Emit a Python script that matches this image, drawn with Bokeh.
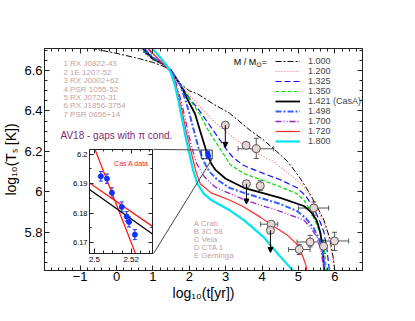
from bokeh.plotting import figure
from bokeh.models import (Range1d, Legend, LegendItem, LinearAxis, SingleIntervalTicker, FixedTicker,
                          ColumnDataSource, Whisker, TeeHead, Arrow, NormalHead, Label, CustomJSTickFormatter)
from bokeh.layouts import column
from bokeh.embed import file_html
from bokeh.resources import INLINE
from bokeh.core.properties import value

FONT = "Liberation Sans"

# ---------------- cooling curves: log10(t[yr]) vs log10(Ts[K]) ----------------
t_100 = [-2.0, -0.7, 0.0, 0.6, 1.0, 1.3, 1.5, 1.75, 2.0, 2.22, 2.7, 3.1, 3.7, 4.05, 4.4, 4.7, 5.0, 5.25, 5.5, 5.7, 5.86, 5.95, 6.0]
T_100 = [6.76, 6.71, 6.685, 6.66, 6.64, 6.62, 6.6, 6.535, 6.5, 6.485, 6.43, 6.39, 6.3, 6.255, 6.2, 6.15, 6.08, 6.01, 5.93, 5.86, 5.77, 5.68, 5.61]

t_120 = [-2.0, 0.6, 1.0, 1.3, 1.5, 1.75, 2.0, 2.3, 2.7, 3.0, 3.3, 3.86, 4.3, 4.6, 5.0, 5.25, 5.5, 5.7, 5.85, 5.93, 5.98]
T_120 = [6.9, 6.71, 6.65, 6.63, 6.6, 6.535, 6.48, 6.42, 6.345, 6.3, 6.255, 6.19, 6.15, 6.11, 6.05, 6.0, 5.93, 5.84, 5.76, 5.68, 5.61]

t_1325 = [-2.0, 0.65, 1.0, 1.3, 1.5, 1.75, 2.0, 2.24, 2.5, 2.71, 3.0, 3.2, 3.5, 4.05, 4.5, 4.96, 5.2, 5.42, 5.6, 5.7, 5.78, 5.85]
T_1325 = [6.9, 6.71, 6.655, 6.63, 6.6, 6.53, 6.465, 6.41, 6.345, 6.29, 6.215, 6.17, 6.13, 6.09, 6.06, 6.02, 5.98, 5.92, 5.85, 5.8, 5.72, 5.61]

t_135 = [-2.0, 0.68, 1.0, 1.3, 1.5, 1.75, 2.0, 2.3, 2.5, 2.71, 3.0, 3.12, 3.5, 4.05, 4.5, 4.96, 5.15, 5.32, 5.5, 5.62, 5.72, 5.77]
T_135 = [6.9, 6.71, 6.655, 6.63, 6.6, 6.53, 6.46, 6.38, 6.31, 6.25, 6.17, 6.135, 6.09, 6.055, 6.025, 5.99, 5.96, 5.91, 5.84, 5.78, 5.7, 5.61]

t_1421 = [-2.0, 0.72, 1.0, 1.3, 1.5, 1.75, 2.0, 2.16, 2.3, 2.48, 2.6, 2.71, 3.0, 3.5, 4.0, 4.5, 5.15, 5.35, 5.5, 5.6, 5.66, 5.71]
T_1421 = [6.9, 6.71, 6.66, 6.63, 6.6, 6.53, 6.44, 6.385, 6.3, 6.195, 6.14, 6.11, 6.065, 6.02, 5.995, 5.97, 5.93, 5.9, 5.86, 5.8, 5.73, 5.61]

t_1498 = [-2.0, 0.75, 1.0, 1.3, 1.5, 1.75, 1.9, 2.0, 2.1, 2.25, 2.4, 2.55, 2.77, 3.1, 3.5, 4.05, 4.5, 4.96, 5.2, 5.42, 5.58, 5.67, 5.73]
T_1498 = [6.9, 6.71, 6.665, 6.63, 6.6, 6.53, 6.45, 6.39, 6.32, 6.22, 6.15, 6.1, 6.06, 6.02, 5.995, 5.965, 5.94, 5.905, 5.87, 5.82, 5.76, 5.7, 5.61]

t_170 = [-2.0, 0.85, 1.0, 1.3, 1.5, 1.6, 1.7, 1.8, 1.9, 2.0, 2.1, 2.2, 2.41, 2.7, 3.0, 3.6, 4.4, 5.15, 5.35, 5.51, 5.63, 5.7]
T_170 = [6.9, 6.71, 6.68, 6.63, 6.595, 6.56, 6.5, 6.43, 6.35, 6.27, 6.2, 6.14, 6.075, 6.025, 6.0, 5.955, 5.91, 5.86, 5.82, 5.775, 5.7, 5.61]

t_172 = [-2.0, 0.88, 1.0, 1.3, 1.5, 1.6, 1.7, 1.8, 1.9, 2.0, 2.1, 2.2, 2.3, 2.6, 3.1, 3.5, 3.95, 4.4, 4.7, 4.96, 5.1, 5.2, 5.23]
T_172 = [6.9, 6.71, 6.685, 6.63, 6.59, 6.55, 6.48, 6.4, 6.31, 6.235, 6.16, 6.09, 6.04, 5.995, 5.96, 5.925, 5.875, 5.82, 5.785, 5.74, 5.69, 5.64, 5.61]

t_180 = [-2.0, 0.98, 1.2, 1.4, 1.5, 1.6, 1.7, 1.8, 1.9, 2.0, 2.1, 2.22, 2.4, 2.6, 3.1, 3.5, 4.05, 4.45, 4.7, 4.85]
T_180 = [6.95, 6.71, 6.665, 6.62, 6.585, 6.53, 6.45, 6.36, 6.27, 6.19, 6.11, 6.04, 5.99, 5.96, 5.91, 5.86, 5.775, 5.69, 5.64, 5.61]

mass_labels = ["1.000", "1.200", "1.325", "1.350", "1.421 (CasA)", "1.498", "1.700", "1.720", "1.800"]

# ---------------- observed neutron stars ----------------
obs_t = [2.99, 3.56, 3.84, 3.57, 3.95, 5.42, 4.25, 4.23, 5.02, 5.32, 5.69, 5.99]
obs_T = [6.33, 6.23, 6.213, 6.04, 6.03, 5.92, 5.84, 5.81, 5.715, 5.752, 5.731, 5.757]

xerr_T = [6.213, 5.92, 5.84, 5.715, 5.752, 5.757]
xerr_lo = [3.34, 5.0, 3.96, 4.73, 4.96, 5.6]
xerr_hi = [4.32, 5.83, 4.43, 5.32, 5.69, 6.38]

yerr_t = [3.84, 3.95, 5.42, 5.02, 5.32, 5.69, 5.99]
yerr_lo = [6.165, 6.007, 5.885, 5.69, 5.728, 5.695, 5.71]
yerr_hi = [6.265, 6.055, 5.95, 5.74, 5.785, 5.76, 5.80]

limit_t = [2.99, 3.57, 4.23]
limit_T = [6.33, 6.04, 5.81]
limit_end = [6.22, 5.94, 5.70]

names_num = ["1 RX J0822-43", "2 1E 1207-52", "3 RX J0002+62", "4 PSR 1055-52",
             "5 RX J0720-31", "6 RX J1856-3754", "7 PSR 0656+14"]
names_let = ["A Crab", "B 3C 58", "C Vela", "D CTA 1", "E Geminga"]

# ---------------- Cas A (inset) ----------------
casa_t = [2.5035, 2.5068, 2.5095, 2.5149, 2.5175, 2.5188, 2.5220]
casa_T = [6.1925, 6.1917, 6.1869, 6.1821, 6.1789, 6.1770, 6.1727]
casa_err = [0.0016, 0.0016, 0.0017, 0.0017, 0.0016, 0.0017, 0.0017]

fit_black_t = [2.4973, 2.5316]
fit_black_T = [6.1880, 6.1729]
fit_red1_t = [2.4973, 2.5316]
fit_red1_T = [6.1902, 6.1755]
fit_red2_t = [2.4990, 2.5240]
fit_red2_T = [6.2037, 6.1636]

zoom_box_t = [2.33, 2.63]
zoom_box_T = [6.164, 6.207]
inset_corner_t = 1.017
inset_corner_T = [6.21, 5.695]

# ---------------- main figure ----------------
p = figure(frame_width=318, frame_height=222, x_range=Range1d(-1.98, 6.76), y_range=Range1d(5.611, 6.709),
           output_backend="svg", toolbar_location=None,
           min_border_left=39, min_border_right=42, min_border_top=48, min_border_bottom=35)
p.xgrid.visible = False
p.ygrid.visible = False
p.outline_line_color = "#222222"
p.background_fill_color = "white"

def style_axis(ax, labels=True, size="13px"):
    ax.axis_line_color = "#222222"
    ax.major_tick_line_color = "#222222"
    ax.minor_tick_line_color = "#222222"
    ax.major_tick_in = 5
    ax.major_tick_out = 0
    ax.minor_tick_in = 3
    ax.minor_tick_out = 0
    ax.major_label_text_font = FONT
    ax.major_label_text_font_size = size
    ax.major_label_text_color = "black"
    ax.axis_label_text_font = FONT
    ax.axis_label_text_font_style = "normal"
    ax.axis_label_text_color = "black"
    if not labels:
        ax.formatter = CustomJSTickFormatter(code="return ''")

p.xaxis.ticker = SingleIntervalTicker(interval=1, num_minor_ticks=5)
p.yaxis.ticker = SingleIntervalTicker(interval=0.2, num_minor_ticks=4)
style_axis(p.xaxis[0])
style_axis(p.yaxis[0])
p.xaxis.axis_label = "log\u2081\u2080(t[yr])"
p.yaxis.axis_label = "log\u2081\u2080(T\u209b [K])"
p.xaxis.axis_label_text_font_size = "14px"
p.yaxis.axis_label_text_font_size = "14px"
p.xaxis.major_label_standoff = 1
p.yaxis.major_label_standoff = 2
p.xaxis.axis_label_standoff = 1
p.yaxis.axis_label_standoff = 2

top_ax = LinearAxis(ticker=SingleIntervalTicker(interval=1, num_minor_ticks=5))
right_ax = LinearAxis(ticker=SingleIntervalTicker(interval=0.2, num_minor_ticks=4))
style_axis(top_ax, labels=False)
style_axis(right_ax, labels=False)
p.add_layout(top_ax, "above")
p.add_layout(right_ax, "right")

curve_specs = [
    (t_100, T_100, "black", "6 2 2 2", 1.0),
    (t_120, T_120, "#ff6a6a", "1 2", 1.2),
    (t_1325, T_1325, "#1010ff", "6 3", 1.2),
    (t_135, T_135, "#00dd00", "4 2", 1.2),
    (t_1421, T_1421, "black", "solid", 1.8),
    (t_1498, T_1498, "#3a5cff", "6 2 2 2", 2.0),
    (t_170, T_170, "#9a1fd0", "6 2 1 2 1 2", 1.3),
    (t_172, T_172, "#ff2a2a", "solid", 1.2),
    (t_180, T_180, "#00e4ee", "solid", 2.2),
]
renderers = []
for tx, ty, col, dash, w in curve_specs:
    r = p.line(tx, ty, line_color=col, line_dash=dash, line_width=w)
    renderers.append(r)

# zoom box and connectors
p.quad(left=[zoom_box_t[0]], right=[zoom_box_t[1]], bottom=[zoom_box_T[0]], top=[zoom_box_T[1]],
       fill_alpha=0, line_color="#333333", line_width=1)
p.segment(x0=[inset_corner_t, inset_corner_t], y0=inset_corner_T,
          x1=[zoom_box_t[0], zoom_box_t[1]], y1=[zoom_box_T[1], zoom_box_T[0]],
          line_color="#444444", line_width=1)
p.scatter(casa_t, casa_T, marker="circle", size=4, fill_color="#1030ff", line_color="#1030ff")

# observations
src_x = ColumnDataSource(dict(y=xerr_T, lo=xerr_lo, hi=xerr_hi))
src_y = ColumnDataSource(dict(x=yerr_t, lo=yerr_lo, hi=yerr_hi))
wx = Whisker(source=src_x, base="y", lower="lo", upper="hi", dimension="width",
             line_color="#555555", line_width=1,
             lower_head=TeeHead(size=5, line_color="#555555"), upper_head=TeeHead(size=5, line_color="#555555"))
wy = Whisker(source=src_y, base="x", lower="lo", upper="hi", dimension="height",
             line_color="#555555", line_width=1,
             lower_head=TeeHead(size=5, line_color="#555555"), upper_head=TeeHead(size=5, line_color="#555555"))
p.add_layout(wx)
p.add_layout(wy)
src_lim = ColumnDataSource(dict(x=limit_t, y=limit_T, y1=limit_end))
p.add_layout(Arrow(source=src_lim, x_start="x", y_start="y", x_end="x", y_end="y1",
                   line_color="black", line_width=1,
                   end=NormalHead(size=5, fill_color="black", line_color="black")))
p.scatter(obs_t, obs_T, marker="circle", size=8, fill_color="#e6d6d6", line_color="#555555", line_width=1)

# texts
name_color = "#c4a2a2"
p.text(x=[-1.46] * len(names_num), y=[6.633 - 0.0415 * i for i in range(len(names_num))], text=names_num,
       text_font=value(FONT), text_font_size="8px", text_color=name_color, text_baseline="middle")
p.text(x=[2.12] * len(names_let), y=[5.844 - 0.0395 * i for i in range(len(names_let))], text=names_let,
       text_font=value(FONT), text_font_size="8px", text_color=name_color, text_baseline="middle")
p.add_layout(Label(x=-1.54, y=6.279, text="AV18 - gaps with  \u03c0 cond.", text_font=FONT,
                   text_font_size="10px", text_color="#7f2a6f", text_baseline="middle"))
p.add_layout(Label(x=3.22, y=6.644, text="M / M", text_font=FONT, text_font_size="9px",
                   text_color="black", text_baseline="middle"))
p.add_layout(Label(x=3.84, y=6.632, text="\u2299", text_font=FONT, text_font_size="7px",
                   text_color="black", text_baseline="middle"))
p.add_layout(Label(x=3.99, y=6.644, text="=", text_font=FONT, text_font_size="9px",
                   text_color="black", text_baseline="middle"))

legend = Legend(items=[LegendItem(label=lab, renderers=[r]) for lab, r in zip(mass_labels, renderers)],
                location=(231, 124), padding=0, margin=0, spacing=0, glyph_width=25, glyph_height=10,
                label_height=10, label_standoff=8, label_text_font=FONT, label_text_font_size="9px",
                border_line_alpha=0, background_fill_alpha=0)
p.add_layout(legend)

# ---------------- inset ----------------
ins = figure(width=149, height=120, x_range=Range1d(2.4973, 2.5316), y_range=Range1d(6.1663, 6.2016),
             output_backend="svg", toolbar_location=None,
             min_border_left=39, min_border_right=1, min_border_top=2, min_border_bottom=14)
ins.xgrid.visible = False
ins.ygrid.visible = False
ins.outline_line_color = "#222222"
ins.background_fill_color = "white"
ins.border_fill_alpha = 0
ins.xaxis.ticker = FixedTicker(ticks=[2.5, 2.52], minor_ticks=[2.505, 2.51, 2.515, 2.525, 2.53])
ins.yaxis.ticker = FixedTicker(ticks=[6.17, 6.18, 6.19, 6.2], minor_ticks=[6.175, 6.185, 6.195])
style_axis(ins.xaxis[0], size="8px")
style_axis(ins.yaxis[0], size="7.5px")
ins.xaxis.major_label_overrides = {2.5: "2.5", 2.52: "2.52"}
ins.yaxis.major_label_overrides = {6.17: "6.17", 6.18: "6.18", 6.19: "6.19", 6.2: "6.2"}
ins.xaxis.major_label_standoff = 3
ins.yaxis.major_label_standoff = 2
ins_top = LinearAxis(ticker=FixedTicker(ticks=[2.5, 2.52], minor_ticks=[2.505, 2.51, 2.515, 2.525, 2.53]))
ins_right = LinearAxis(ticker=FixedTicker(ticks=[6.17, 6.18, 6.19, 6.2], minor_ticks=[6.175, 6.185, 6.195]))
style_axis(ins_top, labels=False)
style_axis(ins_right, labels=False)
ins.add_layout(ins_top, "above")
ins.add_layout(ins_right, "right")
for ax in [ins.xaxis[0], ins.yaxis[0], ins_top, ins_right]:
    ax.major_tick_in = 4
    ax.minor_tick_in = 2

ins.line(fit_red2_t, fit_red2_T, line_color="#ff1a1a", line_width=1.3)
ins.line(fit_red1_t, fit_red1_T, line_color="#ff1a1a", line_width=1.3)
ins.line(fit_black_t, fit_black_T, line_color="black", line_width=1.3)
src_c = ColumnDataSource(dict(x=casa_t, lo=[a - b for a, b in zip(casa_T, casa_err)],
                              hi=[a + b for a, b in zip(casa_T, casa_err)]))
ins.add_layout(Whisker(source=src_c, base="x", lower="lo", upper="hi", dimension="height",
                       line_color="#1030ff", line_width=1,
                       lower_head=TeeHead(size=4, line_color="#1030ff"), upper_head=TeeHead(size=4, line_color="#1030ff")))
ins.scatter(casa_t, casa_T, marker="circle", size=5, fill_color="#1030ff", line_color="#1030ff")
ins.add_layout(Label(x=2.5107, y=6.1968, text="Cas A data", text_font=FONT, text_font_size="7px",
                     text_color="#ff2020", text_baseline="middle"))

ins.margin = (-158, 0, 0, 45)
layout = column(p, ins, spacing=0)

open("out.html", "w").write(file_html(layout, INLINE))
